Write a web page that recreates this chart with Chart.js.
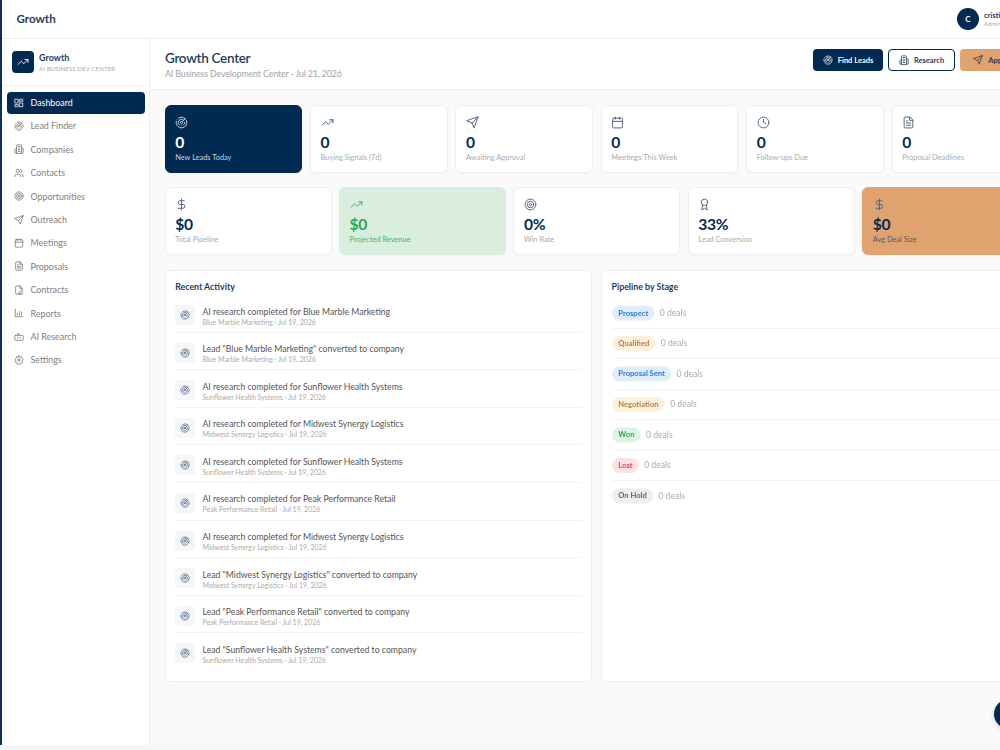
<!DOCTYPE html>
<html>
<head>
<meta charset="utf-8">
<title>Growth Center</title>
<script src="https://cdn.jsdelivr.net/npm/chart.js@4"></script>
<style>
  * { box-sizing: border-box; }
  html, body { margin: 0; width: 1000px; height: 750px; overflow: hidden; background: #fff; font-family: Lato, sans-serif; color: #012a52; }
  svg.ic { fill: none; stroke: currentColor; stroke-width: 1.8; stroke-linecap: round; stroke-linejoin: round; display: block; }
  .stripe { position: absolute; left: 0; top: 0; width: 2px; height: 745px; background: #0b2f5b; z-index: 5; }
  .footer { position: absolute; left: 0; top: 745px; width: 1000px; height: 5px; background: #f3f7fb; z-index: 5; }
  .topbar { position: absolute; left: 0; top: 0; width: 1000px; height: 39px; border-bottom: 1px solid #eeeeee; }
  .brand { position: absolute; left: 16.5px; top: 11px; font-size: 11.6px; font-weight: 700; color: #1d3d5f; line-height: 16px; }
  .avatar { position: absolute; left: 957px; top: 8px; width: 22px; height: 22px; border-radius: 50%; background: #012a52; color: #fff; font-size: 8px; font-weight: 700; text-align: center; line-height: 22px; }
  .user { position: absolute; left: 984px; top: 11px; font-size: 7.4px; font-weight: 700; color: #1d3d5f; line-height: 9px; white-space: nowrap; }
  .role { position: absolute; left: 984px; top: 20px; font-size: 6px; color: #aaa; line-height: 7px; white-space: nowrap; }
  .side { position: absolute; left: 0; top: 39px; width: 150px; height: 706px; border-right: 1px solid #eeeeee; background: #fff; }
  .logo { position: absolute; left: 12px; top: 12px; width: 22px; height: 22px; border-radius: 4px; background: #012a52; color: #fff; padding: 5px; }
  .side h2 { position: absolute; left: 39px; top: 13px; margin: 0; font-size: 9px; font-weight: 700; color: #1d3d5f; line-height: 12px; }
  .side small { position: absolute; left: 39px; top: 25px; font-size: 6.1px; color: #aaa; line-height: 9px; white-space: nowrap; letter-spacing: .1px; }
  .side hr { position: absolute; left: 2px; top: 46px; width: 147px; margin: 0; border: 0; border-top: 1px solid #f1f1f1; }
  .nav { position: absolute; left: 7px; top: 52.5px; width: 137.5px; }
  .nav div { height: 22px; margin-bottom: 1.42px; border-radius: 4px; display: flex; align-items: center; padding-left: 7px; color: #808080; font-size: 8.9px; }
  .nav div svg { margin-right: 6.5px; color: #707070; }
  .nav div:first-child { background: #012a52; color: #fff; }
  .nav div:first-child svg { color: #fff; }
  .main { position: absolute; left: 150px; top: 39px; width: 850px; height: 706px; background: #fafafa; overflow: hidden; }
  .head { position: absolute; left: 0; top: 0; width: 850px; height: 51px; background: #fff; border-bottom: 1px solid #eeeeee; }
  .head h1 { position: absolute; left: 15px; top: 10px; margin: 0; font-size: 13.5px; font-weight: 600; letter-spacing: -.3px; color: #1d3d5f; line-height: 18px; }
  .head p { position: absolute; left: 15px; top: 28px; margin: 0; font-size: 8.8px; letter-spacing: -.12px; color: #a3a3a3; line-height: 13px; white-space: nowrap; }
  .btns { position: absolute; left: 663px; top: 10px; display: flex; gap: 5px; }
  .btns div { height: 22px; border-radius: 4px; display: flex; align-items: center; justify-content: center; font-size: 7.5px; font-weight: 700; white-space: nowrap; }
  .btns svg { margin-right: 5px; }
  .btns div:nth-child(1) { width: 70px; background: #012a52; color: #fff; }
  .btns div:nth-child(2) { width: 67px; background: #fff; color: #1d3d5f; border: 1px solid #012a52; }
  .btns div:nth-child(3) { width: 70px; background: #e0a26f; color: #1d3d5f; }
  .row { position: absolute; left: 14.7px; display: flex; }
  .row1 { top: 66px; gap: 7.8px; }
  .row2 { top: 148.3px; gap: 7.4px; }
  .card { height: 68px; background: #fff; border: 1px solid #efefef; border-radius: 6px; box-shadow: 0 1px 2px rgba(0,0,0,.03); padding: 9.5px 9.5px 0; position: relative; flex: none; color: #4a6688; }
  .row1 .card { width: 137.6px; }
  .row2 .card { width: 167px; }
  .card b { position: absolute; left: 9.5px; top: 25.5px; font-size: 15.6px; font-weight: 700; letter-spacing: -.3px; color: #012a52; line-height: 20px; }
  .card span { position: absolute; left: 9.5px; top: 46.7px; font-size: 7.4px; color: #aaa; line-height: 10px; white-space: nowrap; }
  .row1 .card:nth-child(1) { background: #012a52; border-color: #012a52; color: #c7d2de; }
  .row1 .card:nth-child(1) b { color: #fff; }
  .row1 .card:nth-child(1) span { color: #c7d2de; }
  .row2 .card:nth-child(2) { background: #d9eedf; border-color: #d9eedf; color: #3fae62; }
  .row2 .card:nth-child(2) b { color: #2ba84f; }
  .row2 .card:nth-child(2) span { color: #48b46a; }
  .row2 .card:nth-child(5) { background: #e0a26f; border-color: #e0a26f; }
  .row2 .card:nth-child(5) span { color: #5d5a55; }
  .panel { position: absolute; top: 231px; height: 412px; background: #fff; border: 1px solid #efefef; border-radius: 6px; }
  .panel h3 { position: absolute; left: 9.5px; top: 10px; margin: 0; font-size: 8.8px; font-weight: 700; color: #1d3d5f; line-height: 12px; }
  .activity { left: 14.7px; width: 427.6px; }
  .pipeline { left: 451px; width: 440px; }
  .list { position: absolute; left: 9.5px; top: 24px; width: 406px; }
  .item { height: 37.6px; position: relative; border-bottom: 1px solid #f3f3f3; }
  .item:last-child { border-bottom: 0; }
  .badge { position: absolute; left: 0; top: 10px; width: 20px; height: 20px; border-radius: 4px; background: #f5f6f8; color: #3d5f88; padding: 5px; }
  .item p { position: absolute; left: 27.3px; top: 9.5px; margin: 0; font-size: 8.7px; color: #555; line-height: 13px; white-space: nowrap; }
  .item em { position: absolute; left: 27.3px; top: 22.5px; font-style: normal; font-size: 7px; color: #aaa; line-height: 9px; white-space: nowrap; }
  #stageChart { position: absolute; left: 612px; top: 286.5px; z-index: 3; }
  .fab { position: absolute; left: 994px; top: 698.5px; width: 30px; height: 30px; border-radius: 50%; background: #012a52; z-index: 4; box-shadow: 0 2px 6px rgba(0,0,0,.15); }
</style>
</head>
<body>
<div class="stripe"></div>
<div class="footer"></div>
<div class="topbar">
  <div class="brand">Growth</div>
  <div class="avatar">C</div>
  <div class="user">cristi</div>
  <div class="role">Admin</div>
</div>
<div class="side">
  <div class="logo" data-icon="trend" data-size="12"></div>
  <h2>Growth</h2>
  <small>AI BUSINESS DEV CENTER</small>
  <hr>
  <div class="nav" id="nav"></div>
</div>
<div class="main">
  <div class="head">
    <h1>Growth Center</h1>
    <p>AI Business Development Center - Jul 21, 2026</p>
    <div class="btns" id="btns"></div>
  </div>
  <div class="row row1" id="row1"></div>
  <div class="row row2" id="row2"></div>
  <div class="panel activity">
    <h3>Recent Activity</h3>
    <div class="list" id="list"></div>
  </div>
  <div class="panel pipeline">
    <h3>Pipeline by Stage</h3>
  </div>
</div>
<canvas id="stageChart" width="388" height="235"></canvas>
<div class="fab"></div>

<script>
const navLabels = ['Dashboard', 'Lead Finder', 'Companies', 'Contacts', 'Opportunities', 'Outreach', 'Meetings', 'Proposals', 'Contracts', 'Reports', 'AI Research', 'Settings'];
const navIcons = ['grid', 'radar', 'building', 'users', 'target', 'send', 'calendar', 'file', 'sign', 'bars', 'bot', 'gear'];
const buttonLabels = ['Find Leads', 'Research', 'Approve'];
const buttonIcons = ['radar', 'building', 'send'];

const topLabels = ['New Leads Today', 'Buying Signals (7d)', 'Awaiting Approval', 'Meetings This Week', 'Follow-ups Due', 'Proposal Deadlines'];
const topValues = ['0', '0', '0', '0', '0', '0'];
const topIcons = ['radar', 'trend', 'send', 'calendar', 'clock', 'file'];

const moneyLabels = ['Total Pipeline', 'Projected Revenue', 'Win Rate', 'Lead Conversion', 'Avg Deal Size'];
const moneyValues = ['$0', '$0', '0%', '33%', '$0'];
const moneyIcons = ['dollar', 'trend', 'target', 'award', 'dollar'];

const activityTitles = [
  'AI research completed for Blue Marble Marketing',
  'Lead "Blue Marble Marketing" converted to company',
  'AI research completed for Sunflower Health Systems',
  'AI research completed for Midwest Synergy Logistics',
  'AI research completed for Sunflower Health Systems',
  'AI research completed for Peak Performance Retail',
  'AI research completed for Midwest Synergy Logistics',
  'Lead "Midwest Synergy Logistics" converted to company',
  'Lead "Peak Performance Retail" converted to company',
  'Lead "Sunflower Health Systems" converted to company'
];
const activityCompanies = ['Blue Marble Marketing', 'Blue Marble Marketing', 'Sunflower Health Systems', 'Midwest Synergy Logistics', 'Sunflower Health Systems', 'Peak Performance Retail', 'Midwest Synergy Logistics', 'Midwest Synergy Logistics', 'Peak Performance Retail', 'Sunflower Health Systems'];
const activityDate = 'Jul 19, 2026';

const stageNames = ['Prospect', 'Qualified', 'Proposal Sent', 'Negotiation', 'Won', 'Lost', 'On Hold'];
const stageDeals = [0, 0, 0, 0, 0, 0, 0];

const stageText = ['#2f78d6', '#b5833a', '#2f78d6', '#b5833a', '#2ba84f', '#e0444f', '#5f6670'];
const stageFill = ['#e0edfb', '#fdf0dc', '#e0edfb', '#fdf0dc', '#e0f4e6', '#fce2e3', '#edeef0'];

const iconPaths = {
  trend: 'M22 7l-8.5 8.5-5-5L2 17M16 7h6v6',
  grid: 'M3 3h7v9H3zM14 3h7v5h-7zM14 12h7v9h-7zM3 16h7v5H3z',
  radar: 'M19.07 4.93A10 10 0 0 0 6.99 3.34M4 6h.01M2.29 9.62A10 10 0 1 0 21.31 8.35M16.24 7.76A6 6 0 1 0 8.23 16.67M12 18h.01M17.99 11.66A6 6 0 0 1 15.77 16.67M10 12a2 2 0 1 0 4 0 2 2 0 0 0-4 0M13.41 10.59l5.66-5.66',
  building: 'M6 22V4a2 2 0 0 1 2-2h8a2 2 0 0 1 2 2v18zM6 12H4a2 2 0 0 0-2 2v6a2 2 0 0 0 2 2h2M18 9h2a2 2 0 0 1 2 2v9a2 2 0 0 1-2 2h-2M10 6h4M10 10h4M10 14h4M10 18h4',
  users: 'M16 21v-2a4 4 0 0 0-4-4H6a4 4 0 0 0-4 4v2M13 7a4 4 0 1 1-8 0 4 4 0 0 1 8 0M22 21v-2a4 4 0 0 0-3-3.87M16 3.13a4 4 0 0 1 0 7.75',
  target: 'M22 12a10 10 0 1 1-20 0 10 10 0 0 1 20 0M18 12a6 6 0 1 1-12 0 6 6 0 0 1 12 0M14 12a2 2 0 1 1-4 0 2 2 0 0 1 4 0',
  send: 'M22 2L15 22l-4-9-9-4zM22 2L11 13',
  calendar: 'M8 2v4M16 2v4M5 4h14a2 2 0 0 1 2 2v14a2 2 0 0 1-2 2H5a2 2 0 0 1-2-2V6a2 2 0 0 1 2-2zM3 10h18',
  file: 'M14 2H6a2 2 0 0 0-2 2v16a2 2 0 0 0 2 2h12a2 2 0 0 0 2-2V8zM14 2v6h6M16 13H8M16 17H8M10 9H8',
  sign: 'M20 19.5V22H6a2 2 0 0 1-2-2V4a2 2 0 0 1 2-2h8l6 6v3M14 2v6h6M12 18l6-6 3 3-6 6h-3z',
  bars: 'M3 3v18h18M8 17v-4M13 17V8M18 17v-7',
  bot: 'M12 8V4H8M4 8h16a2 2 0 0 1 2 2v8a2 2 0 0 1-2 2H4a2 2 0 0 1-2-2v-8a2 2 0 0 1 2-2zM9 13v2M15 13v2',
  gear: 'M12 2l2.5 3 3.8-.8.8 3.8 3 2.5-2 3.5 1 3.5-3.7 1.2-1.4 3.6-3.9-1.3-3.6 1.3-1.4-3.6-3.7-1.2 1-3.5-2-3.5 3-2.5.8-3.8 3.8.8zM15 12a3 3 0 1 1-6 0 3 3 0 0 1 6 0',
  clock: 'M22 12a10 10 0 1 1-20 0 10 10 0 0 1 20 0M12 6v6l4 2',
  dollar: 'M12 2v20M17 5H9.5a3.5 3.5 0 0 0 0 7h5a3.5 3.5 0 0 1 0 7H6',
  award: 'M18 8a6 6 0 1 1-12 0 6 6 0 0 1 12 0M15.5 13l1.5 9-5-3-5 3 1.5-9'
};

function icon(name, size) {
  return '<svg class="ic" width="' + size + '" height="' + size + '" viewBox="0 0 24 24"><path d="' + iconPaths[name] + '"/></svg>';
}

document.querySelectorAll('[data-icon]').forEach(el => {
  el.innerHTML = icon(el.dataset.icon, el.dataset.size);
});
document.getElementById('nav').innerHTML = navLabels.map((t, i) => '<div>' + icon(navIcons[i], 10) + t + '</div>').join('');
document.getElementById('btns').innerHTML = buttonLabels.map((t, i) => '<div>' + icon(buttonIcons[i], 10) + t + '</div>').join('');
document.getElementById('row1').innerHTML = topLabels.map((t, i) => '<div class="card">' + icon(topIcons[i], 13) + '<b>' + topValues[i] + '</b><span>' + t + '</span></div>').join('');
document.getElementById('row2').innerHTML = moneyLabels.map((t, i) => '<div class="card">' + icon(moneyIcons[i], 13) + '<b>' + moneyValues[i] + '</b><span>' + t + '</span></div>').join('');
document.getElementById('list').innerHTML = activityTitles.map((t, i) =>
  '<div class="item"><div class="badge">' + icon('radar', 10) + '</div><p>' + t + '</p><em>' + activityCompanies[i] + ' \u00b7 ' + activityDate + '</em></div>'
).join('');

// pills go behind the axis labels, the deal count after each pill
const tickFont = { family: 'Lato', size: 7.6, weight: '700' };
const pillPad = 6.3;

const stagePills = {
  id: 'stagePills',
  beforeDraw(chart) {
    const { ctx, scales } = chart;
    ctx.save();
    ctx.font = '700 ' + tickFont.size + 'px Lato';
    stageNames.forEach((name, i) => {
      const y = scales.y.getPixelForTick(i);
      const w = ctx.measureText(name).width + pillPad * 2;
      ctx.fillStyle = stageFill[i];
      ctx.beginPath();
      ctx.roundRect(scales.y.right, y - 7.5, w, 15, 7.5);
      ctx.fill();
    });
    ctx.restore();
  },
  afterDraw(chart) {
    const { ctx, scales } = chart;
    ctx.save();
    stageNames.forEach((name, i) => {
      const y = scales.y.getPixelForTick(i);
      ctx.font = '700 ' + tickFont.size + 'px Lato';
      const w = ctx.measureText(name).width + pillPad * 2;
      ctx.font = '8.6px Lato';
      ctx.fillStyle = '#aaaaaa';
      ctx.textBaseline = 'middle';
      ctx.fillText(stageDeals[i] + ' deals', scales.y.right + w + 5.3, y);
    });
    ctx.restore();
  }
};

new Chart(document.getElementById('stageChart'), {
  type: 'bar',
  data: {
    labels: stageNames,
    datasets: [{ label: 'Deals', data: stageDeals, backgroundColor: stageFill, borderWidth: 0 }]
  },
  options: {
    indexAxis: 'y',
    responsive: false,
    animation: false,
    layout: { padding: 0 },
    plugins: { legend: { display: false }, tooltip: { enabled: false } },
    scales: {
      x: { display: false, min: 0, max: 10 },
      y: {
        afterFit: s => { s.width = 0; },
        border: { display: false },
        grid: {
          drawTicks: false,
          tickLength: 0,
          color: c => (c.index > 0 ? '#f3f3f3' : 'transparent')
        },
        ticks: {
          mirror: true,
          padding: pillPad,
          font: tickFont,
          color: c => stageText[c.index]
        }
      }
    }
  },
  plugins: [stagePills]
});
</script>
</body>
</html>
